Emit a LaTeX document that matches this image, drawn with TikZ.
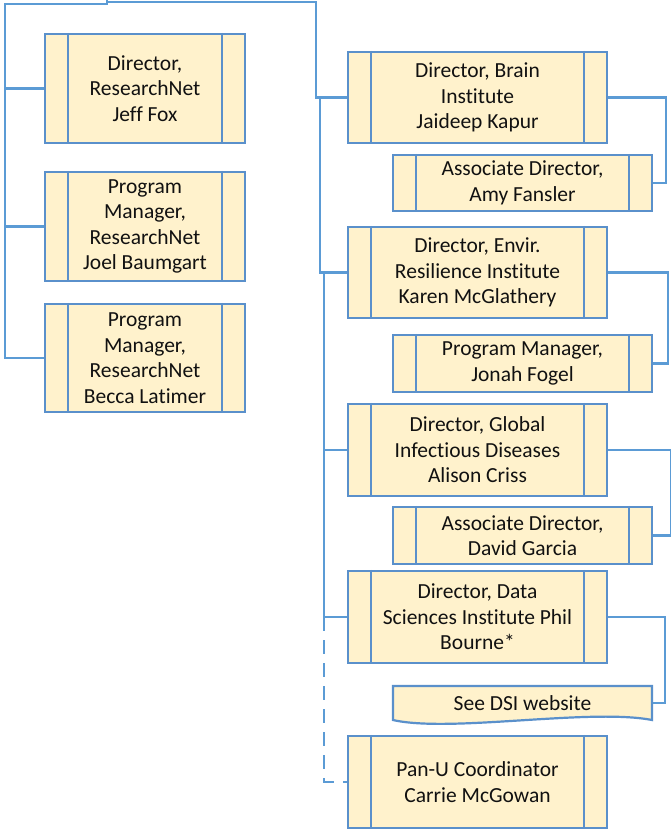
\documentclass[tikz,border=0pt]{standalone}
\usepackage{fontspec}
\setmainfont[Ligatures=NoCommon]{Carlito}
\definecolor{lineblue}{HTML}{5B9BD5}
\definecolor{boxblue}{HTML}{5A90CB}
\definecolor{boxfill}{HTML}{FFF2CC}
\definecolor{txt}{HTML}{111111}
\tikzset{
  conn/.style={draw=lineblue, line width=2.6pt},
  dconn/.style={conn, dash pattern=on 14pt off 9pt},
  orgbox/.style={draw=boxblue, fill=boxfill, line width=2.2pt, inner sep=0pt,
    text=txt, align=center, font=\fontsize{21.5}{25.5}\selectfont},
  wide/.style={orgbox, minimum width=259pt},
  narrow/.style={orgbox, minimum width=200pt},
  inner/.style={draw=boxblue, line width=2.2pt}
}
\newcommand{\sidebars}[1]{%
  \draw[inner] ([xshift=24pt]#1.north west) -- ([xshift=24pt]#1.south west);
  \draw[inner] ([xshift=-24pt]#1.north east) -- ([xshift=-24pt]#1.south east);}
\begin{document}
\begin{tikzpicture}[x=1pt,y=-1pt]
\useasboundingbox (0,0) rectangle (671,830);
% left boxes
\node[narrow, minimum height=109pt] (jf) at (145,88.5) {Director,\\ResearchNet\\Jeff Fox};
\node[narrow, minimum height=109pt] (jb) at (145,226.5) {Program\\Manager,\\ResearchNet\\Joel Baumgart};
\node[narrow, minimum height=108pt] (bl) at (145,358) {Program\\Manager,\\ResearchNet\\Becca Latimer};
% right boxes
\node[wide, minimum height=91pt] (brain) at (477.5,97.5) {Director, Brain\\Institute\\Jaideep Kapur};
\node[wide, minimum height=56pt] (amy) at (522.5,183) {Associate Director,\\Amy Fansler};
\node[wide, minimum height=91pt] (envir) at (477.5,272.5) {Director, Envir.\\Resilience Institute\\Karen McGlathery};
\node[wide, minimum height=57pt] (jonah) at (522.5,363.5) {Program Manager,\\Jonah Fogel};
\node[wide, minimum height=92pt] (global) at (477.5,450) {Director, Global\\Infectious Diseases\\Alison Criss};
\node[wide, minimum height=57pt] (david) at (522.5,535.5) {Associate Director,\\David Garcia};
\node[wide, minimum height=92pt] (dsi) at (477.5,617) {Director, Data\\Sciences Institute Phil\\Bourne*};
\node[wide, minimum height=92pt] (panu) at (477.5,782) {Pan-U Coordinator\\Carrie McGowan};
% document shape
\filldraw[draw=boxblue, fill=boxfill, line width=2.2pt] (393,686) -- (652,686) -- (652,720)
  .. controls (590,708) and (450,733) .. (393,720) -- cycle;
\node[orgbox, draw=none, fill=none, minimum width=259pt, minimum height=34pt] (web) at (522.5,703) {See DSI website};
\foreach \n in {jf,jb,bl,brain,amy,envir,jonah,global,david,dsi,panu} {\sidebars{\n}}
% left connectors
\coordinate (top) at (107,0);
\coordinate (lt) at (5,4);
\draw[conn] (top) -- (107,4) -- (lt) |- (bl.west);
\draw[conn] (jf.west) -- (jf.west -| lt);
\draw[conn] (jb.west) -- (jb.west -| lt);
% right trunk
\draw[conn] (107,2) -- (316,2) |- (brain.west);
\draw[conn] (320,97.5) |- (envir.west);
\draw[conn] (324,272.5) |- (dsi.west);
\draw[conn] (global.west) -- (global.west -| 324,0);
\draw[dconn] (324,617) |- (panu.west);
% sub connectors
\draw[conn] (brain.east) -- ++(58,0) |- (amy.east);
\draw[conn] (envir.east) -- ++(60,0) |- (jonah.east);
\draw[conn] (global.east) -- ++(63,0) |- (david.east);
\draw[conn] (dsi.east) -- ++(57,0) |- (web.east);
\end{tikzpicture}
\end{document}
